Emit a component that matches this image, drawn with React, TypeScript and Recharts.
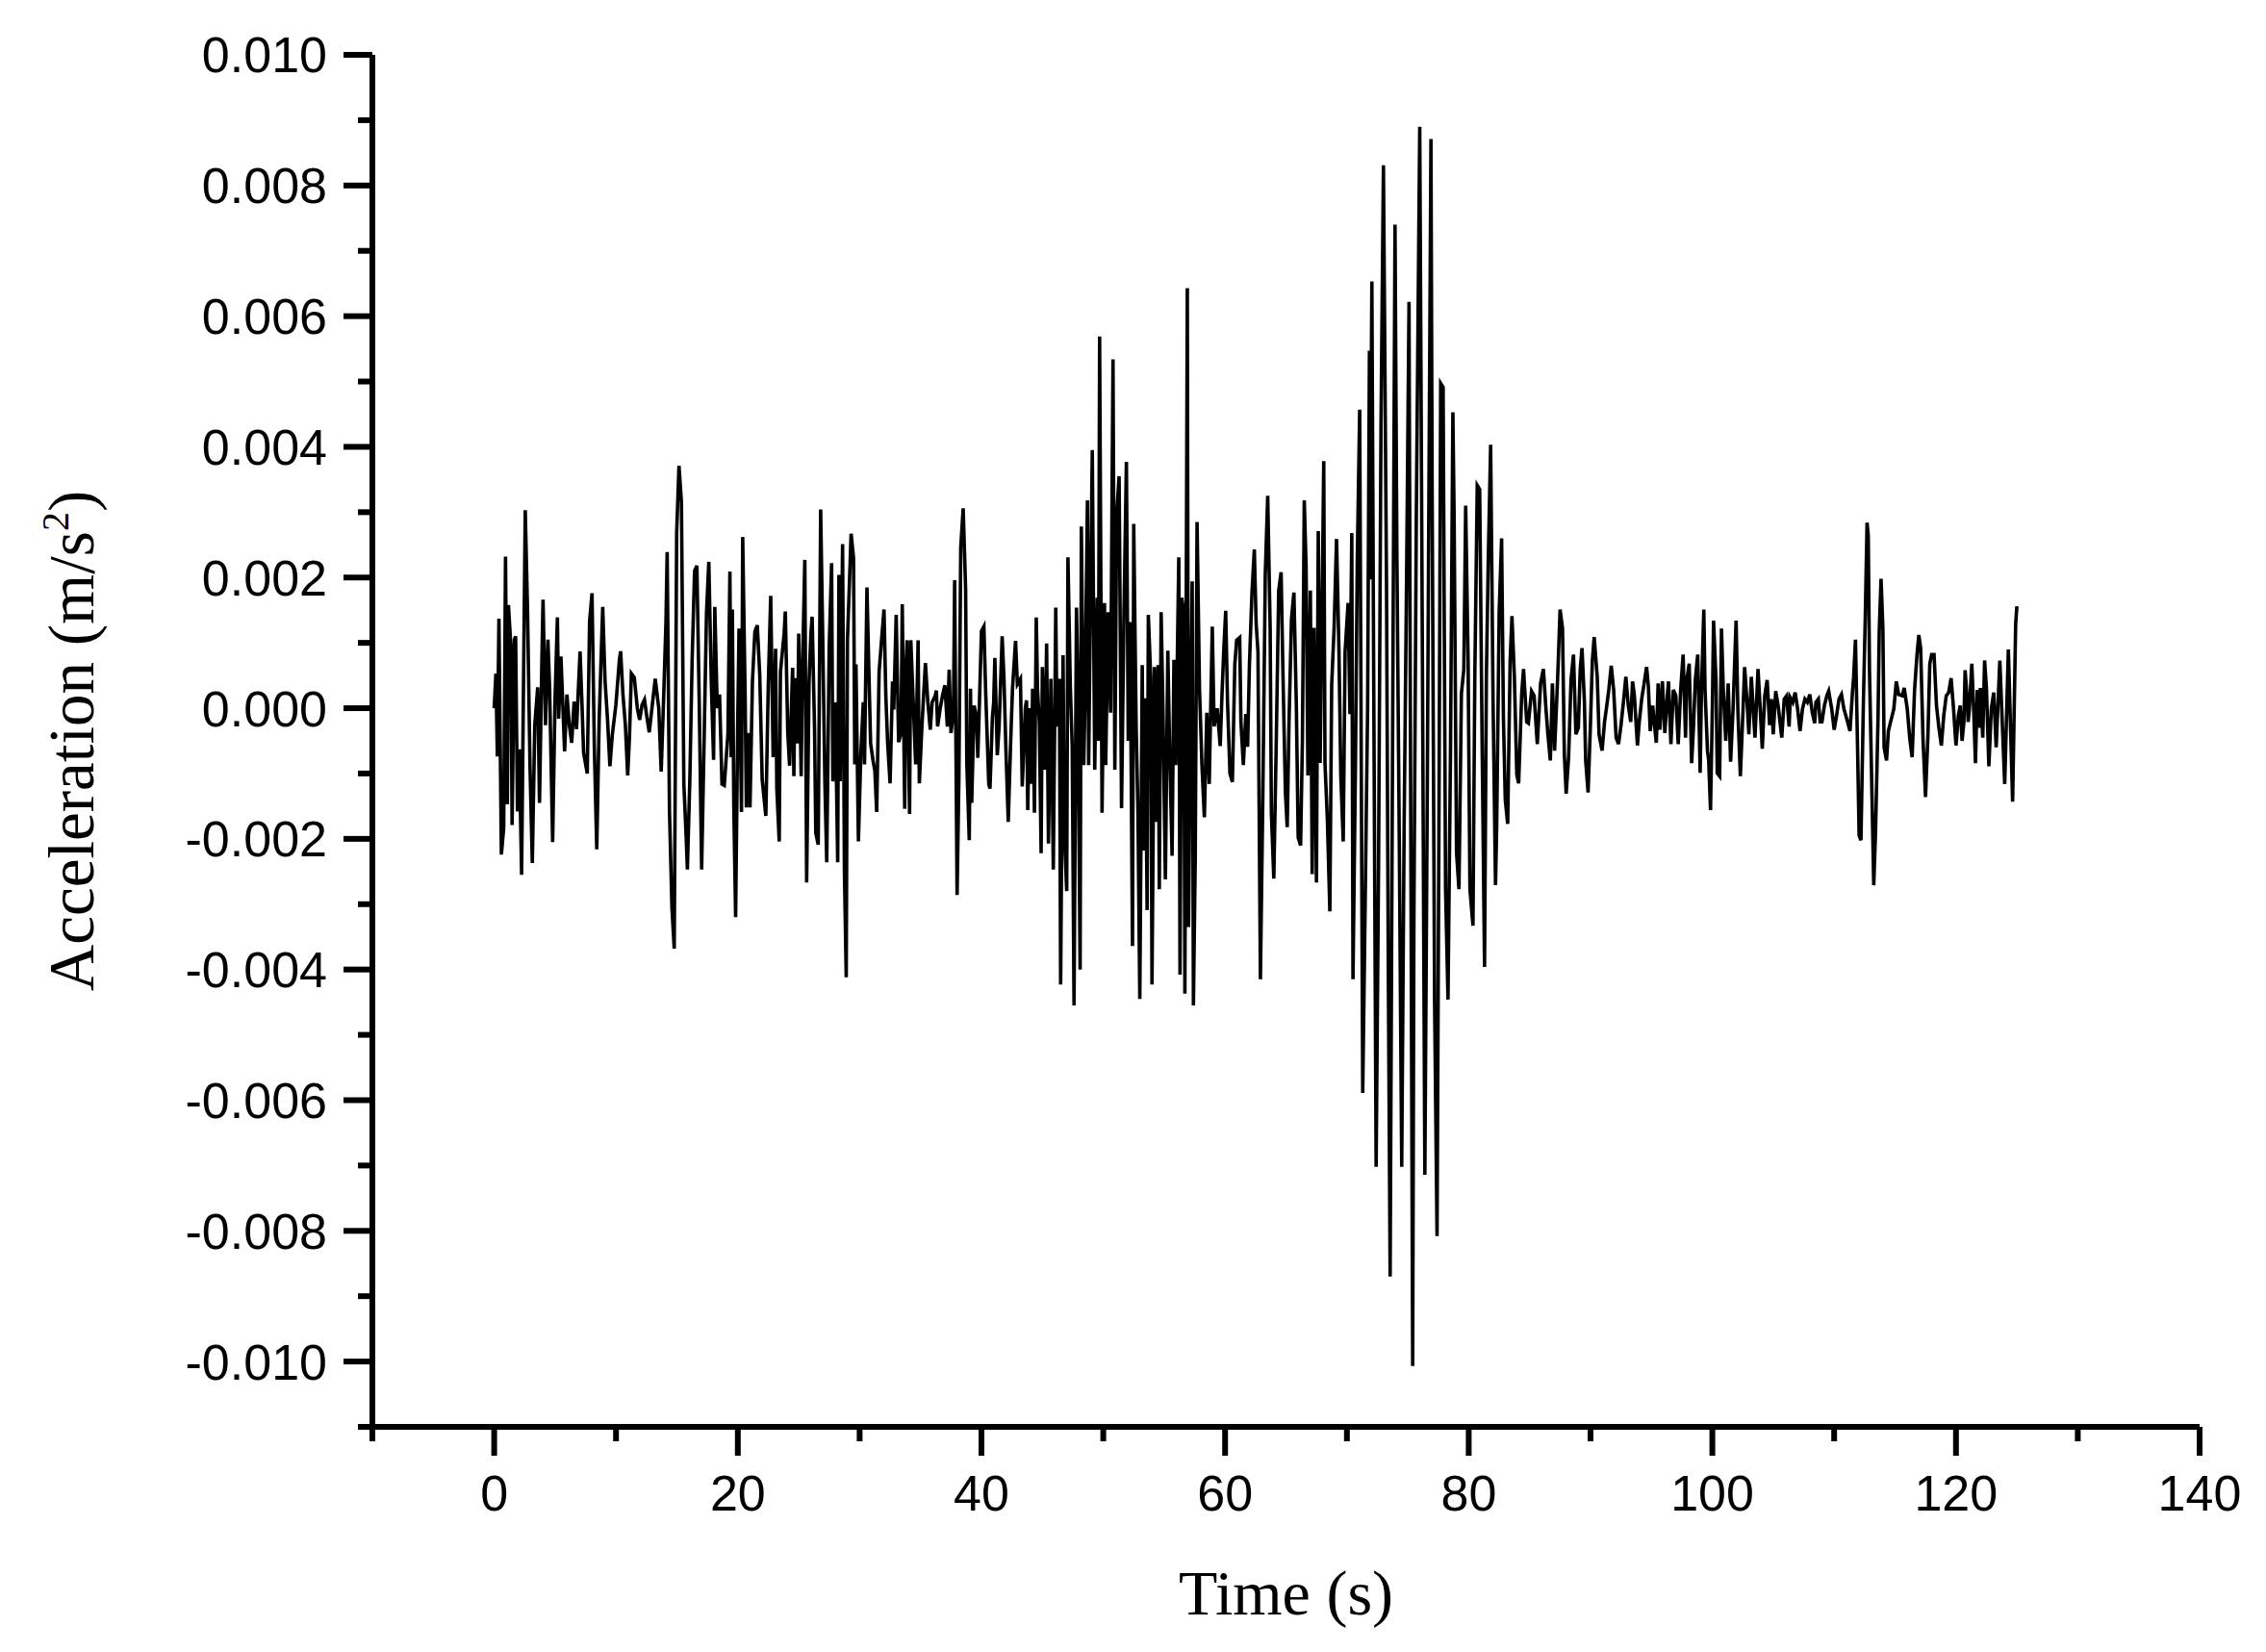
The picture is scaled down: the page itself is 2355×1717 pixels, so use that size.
import React from 'react';
import { LineChart, Line, XAxis, YAxis } from 'recharts';

// acceleration record: [time (s), acceleration (x10^-3 m/s^2)]
const seg00: [number, number][] = [
  [0, 0], [0.14, 0.53], [0.26, -0.74], [0.39, 1.37], [0.59, -2.24], [0.78, -1.84], [0.93, 2.32], [1.08, -1.47],
  [1.17, 1.58], [1.37, 0.95], [1.47, -1.79], [1.66, 1.05], [1.76, 1.1], [1.91, -1.58], [2.06, -0.63], [2.25, -2.55],
  [2.35, -0.68], [2.55, 3.03], [2.74, 1.47], [2.94, -0.89], [3.13, -2.37], [3.33, -0.26], [3.57, 0.32], [3.72, -1.45],
  [3.92, 0.79], [4.01, 1.66], [4.21, -0.26], [4.41, 1.05], [4.55, 0.32], [4.8, -2.05], [4.99, 0.1], [5.19, 1.39],
  [5.29, -0.16], [5.48, 0.79], [5.78, -0.66], [5.97, 0.21], [6.17, -0.26], [6.36, -0.53], [6.56, 0.1], [6.76, -0.32],
  [7.05, 0.87], [7.2, 0.1], [7.34, -0.68], [7.64, -1.0], [7.83, 1.32], [8.03, 1.76], [8.22, -0.58], [8.42, -2.16],
  [8.62, -0.16], [8.91, 1.55], [9.1, 0.42], [9.3, -0.16], [9.5, -0.89], [9.69, -0.42], [9.99, 0.05], [10.28, 0.74],
  [10.38, 0.87], [10.57, 0.21], [10.77, -0.26], [10.96, -1.03], [11.11, -0.42], [11.26, 0.53], [11.5, 0.47], [11.75, 0],
  [11.94, -0.18], [12.14, 0.05], [12.34, 0.13], [12.53, -0.13], [12.73, -0.37], [12.92, -0.05], [13.22, 0.45], [13.51, 0],
  [13.71, -0.97], [13.9, 0.1], [14.1, 1.32], [14.2, 2.39], [14.39, -1.58], [14.59, -3.05], [14.78, -3.68], [14.98, 2.68],
  [15.17, 3.71], [15.37, 3.16], [15.57, -1.16], [15.76, -1.97], [15.86, -2.47], [16.06, -1.1], [16.25, 0.74], [16.45, 2.1],
  [16.64, 2.18], [16.84, 0], [17.03, -2.47], [17.23, -0.53], [17.43, 1.47], [17.62, 2.24], [17.82, 0.42], [18.01, -0.79],
  [18.11, 1.55], [18.31, 0], [18.5, 0.21], [18.7, -1.16], [18.89, -1.18], [19.19, -0.39], [19.35, 2.09], [19.45, -0.75],
  [19.55, 1.51], [19.67, -1.49], [19.82, -3.2],
];

const seg20: [number, number][] = [
  [20.0, -0.12], [20.1, 1.22], [20.3, -1.59], [20.4, 2.62], [20.6, 0.19], [20.7, -1.52], [20.9, -0.38], [21.0, -1.52],
  [21.2, 0.41], [21.4, 1.17], [21.6, 1.27], [21.8, 0.51], [22.0, -1.09], [22.3, -1.65], [22.5, 0.35], [22.7, 1.72],
  [22.9, -0.75], [23.1, 0.91], [23.2, -1.23], [23.4, -2.04], [23.5, 0.56], [23.8, 1.14], [23.9, 1.48], [24.1, -0.38],
  [24.25, -0.88], [24.5, 0.62], [24.6, -1.04], [24.7, 0.46], [24.9, -0.54], [25.0, 1.14], [25.2, -1.04], [25.3, 0.51],
  [25.5, 2.27], [25.65, -2.67], [25.85, 0.41], [26.0, 1.14], [26.1, 1.4], [26.3, -0.33], [26.4, -1.91], [26.6, -2.09],
  [26.8, 3.04], [27.0, 0.72], [27.15, -1.17], [27.3, -2.36], [27.5, 0.93], [27.7, 2.22], [27.8, -1.12], [28.0, 0.09],
  [28.2, -2.36], [28.3, 2.04], [28.4, -1.12], [28.6, 2.51], [28.75, -2.49], [28.9, -4.12], [29.0, 1.04], [29.3, 2.67],
  [29.5, 2.3], [29.6, -0.86], [29.7, 0.67], [29.9, -2.04], [30.1, -0.7], [30.3, 0.09], [30.4, -0.86], [30.6, 1.85],
  [30.7, 1.04], [30.9, -0.54], [31.1, -0.8], [31.25, -0.96], [31.4, -1.59], [31.6, 0.56], [31.8, 1.04], [32.0, 1.51],
  [32.15, 0.19], [32.3, -0.54], [32.5, -1.15], [32.7, 0.41], [32.8, -0.02], [33.0, 1.43], [33.2, -0.52], [33.4, -0.38],
  [33.5, 1.59], [33.7, -1.54], [33.8, 0.56], [33.9, 1.04], [34.1, -1.62], [34.2, 1.04], [34.4, 0.09], [34.6, -0.86],
  [34.8, 1.04], [34.9, -1.15], [35.1, -0.33], [35.25, 0.19], [35.4, 0.69], [35.6, 0.09], [35.8, -0.33], [35.95, 0.09],
  [36.2, 0.19], [36.3, 0.27], [36.4, -0.28], [36.6, -0.02], [36.8, 0.19], [37.0, 0.35], [37.2, -0.28], [37.35, 0.59],
  [37.5, -0.38], [37.7, -0.07], [37.8, 1.96], [38.0, -2.86], [38.15, -1.07], [38.3, 2.46], [38.5, 3.06], [38.7, 1.83],
  [38.8, -0.86], [39.0, -2.02],
];

const seg40: [number, number][] = [
  [39.1, 0.3], [39.2, -1.45], [39.4, 0.04], [39.6, -0.14], [39.7, -0.76], [39.8, -0.14], [40.0, 1.18], [40.2, 1.25],
  [40.35, 0.23], [40.6, -1.16], [40.7, -1.23], [40.9, -0.14], [41.0, 0.08], [41.1, 0.77], [41.3, -0.72], [41.45, -0.28],
  [41.7, 1.1], [41.85, 0.45], [42.0, -0.58], [42.2, -1.74], [42.4, -0.5], [42.55, 0.3], [42.8, 1.03], [42.95, 0.37],
  [43.2, 0.45], [43.35, -1.2], [43.6, 0], [43.7, 0.12], [43.8, -1.56], [43.95, 0], [44.1, -1.16], [44.2, 0.3],
  [44.35, -1.6], [44.5, 1.39], [44.6, 0.3], [44.75, -0.21], [44.9, -2.22], [45.0, 0.63], [45.2, -0.94], [45.35, 0.99],
  [45.5, -2.07], [45.7, 0.45], [45.8, -0.94], [45.9, -2.47], [46.1, 1.54], [46.2, -0.28], [46.4, 0.45], [46.5, -4.23],
  [46.7, 0.81], [46.8, -1.89], [47.0, -2.8], [47.1, 2.31], [47.3, 0.3], [47.45, -0.58], [47.6, -4.55], [47.8, 1.54],
  [47.9, 0.52], [48.1, -4.0], [48.2, 2.78], [48.4, -0.87], [48.5, 0.08], [48.7, 3.18], [48.8, -0.87], [48.95, 1.69],
  [49.1, 3.95], [49.3, -0.94], [49.5, 1.69], [49.6, -0.5], [49.7, 5.69], [49.9, -1.6], [50.1, 1.61], [50.2, -0.87],
  [50.4, 1.47], [50.6, -0.07], [50.8, 5.34], [50.95, -0.94], [51.1, 2.96], [51.3, 3.55], [51.5, -1.53], [51.7, 1.47],
  [51.9, 3.77], [52.05, -0.5], [52.2, 1.32], [52.4, -3.64], [52.5, 2.82], [52.7, -0.28], [52.85, -1.6], [53.0, -4.45],
  [53.2, 0.66], [53.3, -2.18], [53.45, 0.15], [53.6, -3.09], [53.7, 1.43], [53.9, 0.45], [54.0, -4.23], [54.2, 0.63],
  [54.35, -1.74], [54.5, 0.66], [54.6, -2.77], [54.75, 1.47], [54.9, 0], [55.1, -2.62], [55.3, 0.88], [55.45, -0.65],
  [55.65, -2.26], [55.8, 0.74], [55.95, -0.87], [56.2, 2.31], [56.3, -4.08], [56.45, 1.69], [56.6, 1.47], [56.7, -4.37],
  [56.9, 6.43], [57.0, -3.35], [57.1, -1.16], [57.3, 1.94], [57.4, -4.55], [57.55, -2.33], [57.7, 2.85], [57.9, 0.3],
  [58.1, -0.87], [58.3, -1.67], [58.5, -0.07], [58.7, -1.16], [58.95, 1.25], [59.1, -0.28], [59.35, 0], [59.6, -0.58],
];

const seg60: [number, number][] = [
  [59.75, 0.23], [59.9, 0.92], [60.05, 1.49], [60.2, 0.1], [60.4, -1.0], [60.6, -1.13], [60.8, 0.67], [60.95, 1.04],
  [61.2, 1.08], [61.3, -0.21], [61.5, -0.87], [61.7, -0.09], [61.85, -0.59], [62.0, 0.67], [62.2, 1.74], [62.4, 2.43],
  [62.55, 1.3], [62.7, 0.86], [62.9, -4.15], [63.1, -1.35], [63.3, 2.05], [63.5, 3.25], [63.7, 1.23], [63.8, -1.6],
  [64.0, -2.61], [64.2, -0.53], [64.4, 1.8], [64.6, 2.08], [64.75, 0.54], [64.95, -1.28], [65.1, -1.82], [65.25, -0.21],
  [65.45, 1.36], [65.65, 1.77], [65.85, 0.04], [66.0, -1.98], [66.2, -2.1], [66.35, -0.47], [66.5, 3.18], [66.65, 2.18],
  [66.8, -1.03], [67.0, 1.8], [67.15, -2.54], [67.3, 1.23], [67.5, -2.67], [67.65, 2.71], [67.8, -0.84], [68.0, 2.11],
  [68.1, 3.78], [68.2, -0.84], [68.4, -1.72], [68.6, -3.11], [68.75, 0.35], [68.95, 1.23], [69.15, 2.59], [69.35, 0.86],
  [69.5, -1.03], [69.7, -2.04], [69.85, 0.86], [70.1, 1.61], [70.25, -0.09], [70.4, 2.68], [70.5, -4.15], [70.7, -0.91],
  [70.85, 2.24], [71.05, 4.57],
];

const seg72: [number, number][] = [
  [71.3, -5.89], [71.5, -3.0], [71.7, 0], [71.85, 5.47], [71.9, 1.97], [72.05, 6.53], [72.2, 0.47], [72.4, -7.02],
  [72.6, -2.4], [72.8, 4.34], [73.0, 8.31], [73.25, 1.97], [73.4, -4.02], [73.55, -8.7], [73.7, -2.52], [73.95, 7.4],
  [74.1, 2.47], [74.3, -2.02], [74.5, -7.02], [74.7, -1.77], [74.9, 2.03], [75.1, 6.22], [75.2, 0.47], [75.4, -10.07],
  [75.5, -3.27], [75.7, 2.97], [75.98, 8.9], [76.2, 0.72], [76.4, -7.14], [76.6, -1.27], [76.7, 2.22], [76.9, 8.71],
  [77.0, 3.22], [77.2, -4.52], [77.4, -8.08], [77.55, -2.02], [77.7, 4.97], [77.9, 4.91], [78.1, -2.77], [78.3, -4.46],
  [78.5, -0.77], [78.7, 4.53], [78.8, 2.97], [79.0, -2.21], [79.2, -2.77], [79.4, 0.22], [79.6, 0.6], [79.75, 3.1],
  [79.95, 0.72], [80.1, -2.77], [80.35, -3.33], [80.5, 0.47], [80.7, 3.41], [80.9, 3.35], [81.1, -0.52], [81.3, -3.96],
  [81.45, 0.47], [81.6, 2.22], [81.8, 4.03], [82.0, 0.1], [82.2, -2.71], [82.3, -1.77], [82.5, 1.47], [82.7, 2.6],
  [82.85, -0.15], [83.0, -1.4], [83.2, -1.77], [83.4, 0.72], [83.55, 1.41], [83.75, 0.47], [83.95, -1.02], [84.1, -1.15],
  [84.35, 0.22], [84.5, 0.6],
];

const seg85: [number, number][] = [
  [84.76, -0.21], [84.9, -0.23], [85.16, 0.26], [85.37, 0.19], [85.63, -0.55], [85.9, 0.38], [86.13, 0.6], [86.34, -0.01],
  [86.5, -0.4], [86.7, -0.8], [86.87, 0.38], [87.05, -0.65], [87.3, 0.46], [87.5, 1.51], [87.7, 1.22], [87.85, -0.7],
  [88.0, -1.31], [88.2, -0.75], [88.4, 0.43], [88.6, 0.82], [88.8, -0.4], [89.0, -0.3], [89.15, 0.58], [89.3, 0.92],
  [89.5, 0.09], [89.6, -0.8], [89.8, -1.29], [90.0, -0.21], [90.15, 0.73], [90.3, 1.09], [90.55, 0.48], [90.7, -0.4],
  [90.95, -0.65], [91.15, -0.21], [91.3, -0.01], [91.5, 0.28], [91.7, 0.65], [91.9, 0.28], [92.1, -0.45], [92.3, -0.55],
  [92.5, -0.26], [92.7, 0.09], [92.9, 0.48], [93.1, 0.04], [93.3, -0.21], [93.45, 0.41], [93.6, 0.19], [93.85, -0.57],
  [94.0, -0.21], [94.2, 0.14], [94.4, 0.38], [94.6, 0.63], [94.75, 0.33], [94.9, -0.35], [95.1, 0.04], [95.3, -0.35],
  [95.4, -0.53], [95.55, 0.38], [95.7, -0.33], [95.9, 0.41], [96.1, -0.38], [96.3, 0.19], [96.4, 0.41], [96.6, -0.55],
  [96.8, 0.28], [97.0, 0.19], [97.2, -0.55], [97.4, 0.28], [97.6, 0.82], [97.8, -0.45], [97.9, 0.43], [98.1, 0.68],
  [98.3, -0.84], [98.45, -0.3], [98.6, 0.43], [98.8, 0.82], [99.0, -0.99], [99.1, 0.19], [99.3, 1.51], [99.4, 0.28],
  [99.6, -0.65], [99.7, -0.8], [99.85, -1.56], [100.0, -0.01], [100.1, 1.34], [100.3, 0.43], [100.4, -0.99], [100.6, -1.04],
  [100.75, 1.22], [100.9, 0.28], [101.1, -0.5], [101.3, 0.38], [101.5, -0.82], [101.7, -0.01], [101.95, 1.34], [102.1, -0.06],
  [102.3, -1.04], [102.5, -0.11], [102.65, 0.63], [102.85, 0.09], [103.0, -0.4], [103.2, 0.48], [103.4, -0.16], [103.5, -0.45],
  [103.75, 0.6], [103.9, 0.09], [104.1, -0.62], [104.3, 0.19], [104.5, 0.43], [104.7, -0.26], [104.85, 0.14], [105.0, -0.4],
  [105.2, 0.26], [105.4, 0.04], [105.7, -0.45], [105.9, 0.14],
];

const seg105: [number, number][] = [
  [106.1, 0.19], [106.3, -0.28], [106.4, 0.16], [106.6, 0.09], [106.8, 0.24], [107.0, -0.01], [107.2, -0.35], [107.4, -0.01],
  [107.6, 0.14], [107.8, 0.09], [108.0, 0.21], [108.2, -0.06], [108.4, -0.23], [108.5, 0.09], [108.7, 0.14], [108.85, -0.21],
  [109.0, -0.21], [109.2, 0.04], [109.4, 0.19], [109.55, 0.26], [109.8, -0.01], [110.0, -0.33], [110.2, -0.11], [110.4, 0.14],
  [110.6, 0.21], [110.8, -0.01], [111.1, -0.21], [111.3, -0.35], [111.5, 0.24], [111.6, 0.48], [111.75, 1.05], [111.9, -0.4],
  [112.05, -1.95], [112.2, -2.02], [112.4, 0.09], [112.55, 1.36], [112.7, 2.84], [112.8, 2.64], [112.9, 0.58], [113.1, -1.29],
  [113.25, -2.71], [113.4, -1.88], [113.6, -0.16], [113.7, 1.17], [113.85, 1.98], [114.0, 1.22], [114.1, -0.6], [114.3, -0.8],
  [114.45, -0.35], [114.7, -0.16], [114.9, -0.01], [115.1, 0.41], [115.3, 0.21], [115.6, 0.19], [115.75, 0.31], [116.0, -0.01],
  [116.2, -0.45], [116.4, -0.75], [116.6, 0.28], [116.8, 0.82], [116.95, 1.12], [117.1, 0.92], [117.3, -0.5], [117.5, -1.36],
  [117.7, -0.4], [117.85, 0.68], [118.0, 0.82], [118.2, 0.82], [118.4, 0.04], [118.6, -0.3], [118.8, -0.57], [119.0, -0.11],
  [119.2, 0.19], [119.4, 0.24], [119.6, 0.46], [119.8, -0.01], [120.0, -0.57], [120.2, -0.11], [120.35, 0.04], [120.5, -0.5],
  [120.65, -0.21], [120.75, 0.58], [120.9, 0.19], [121.0, -0.21], [121.1, -0.01], [121.3, 0.68], [121.45, -0.01], [121.6, -0.84],
  [121.75, 0.28], [121.9, -0.3], [122.0, 0.31], [122.2, -0.45], [122.35, 0.73], [122.5, 0.31], [122.7, -0.89], [122.9, -0.01],
  [123.1, 0.24], [123.3, -0.6], [123.6, 0.73], [124.0, -1.16], [124.3, 0.9], [124.65, -1.43], [124.9, 1.29], [125.0, 1.56],
];

const xTicks = [-10, 0, 10, 20, 30, 40, 50, 60, 70, 80, 90, 100, 110, 120, 130, 140];
const xLabelled = [0, 20, 40, 60, 80, 100, 120, 140];
const yTicks = [
  -0.011, -0.01, -0.009, -0.008, -0.007, -0.006, -0.005, -0.004, -0.003, -0.002, -0.001,
  0, 0.001, 0.002, 0.003, 0.004, 0.005, 0.006, 0.007, 0.008, 0.009, 0.01,
];

const W = 2355;
const H = 1717;
const TICK = 30;
const GAP_X = 20;
const GAP_Y = 17;
const AXIS_W = 6;
const sans = '"Liberation Sans", Arial, sans-serif';
const serif = '"Liberation Serif", "Times New Roman", serif';

const rows = [...seg00, ...seg20, ...seg40, ...seg60, ...seg72, ...seg85, ...seg105].map(([t, a]) => ({
  t,
  acc: a / 1000,
}));

const XTick = (props: any) => {
  const { x, y, payload } = props;
  const v = payload.value;
  const major = xLabelled.includes(v);
  const y0 = y - TICK - GAP_X;
  return (
    <g>
      <line x1={x} x2={x} y1={y0} y2={y0 + (major ? TICK : TICK / 2)} stroke="#000" strokeWidth={AXIS_W} />
      {major && (
        <text x={x} y={y} dy="0.71em" textAnchor="middle" fontFamily={sans} fontSize={52} fill="#000">
          {v}
        </text>
      )}
    </g>
  );
};

const YTick = (props: any) => {
  const { x, y, payload } = props;
  const k = Math.round(payload.value * 1000);
  const major = k % 2 === 0;
  const x0 = x + TICK + GAP_Y;
  return (
    <g>
      <line x1={x0 - (major ? TICK : TICK / 2)} x2={x0} y1={y} y2={y} stroke="#000" strokeWidth={AXIS_W} />
      {major && (
        <text x={x} y={y} dy="0.355em" textAnchor="end" fontFamily={sans} fontSize={52} fill="#000">
          {payload.value.toFixed(3)}
        </text>
      )}
    </g>
  );
};

const renderYTitle = (props: any) => {
  const vb = props.viewBox;
  const cx = vb.x + 10;
  const cy = vb.y + vb.height / 2;
  return (
    <text
      x={cx}
      y={cy}
      transform={`rotate(-90 ${cx} ${cy})`}
      textAnchor="middle"
      fontFamily={serif}
      fontSize={67}
      fill="#000"
    >
      Acceleration (m/s
      <tspan dy={-26} fontSize={40}>2</tspan>
      <tspan dy={26}>)</tspan>
    </text>
  );
};

export default function App() {
  return (
    <div style={{ position: 'absolute', left: 0, top: 0, width: W, height: H, background: '#fff' }}>
      <LineChart width={W} height={H} data={rows} margin={{ top: 57, right: 69, bottom: 134, left: 87 }}>
        <XAxis
          dataKey="t"
          type="number"
          domain={[-10, 140]}
          ticks={xTicks}
          interval={0}
          height={100}
          tickSize={TICK}
          tickMargin={GAP_X}
          tickLine={false}
          tick={<XTick />}
          axisLine={{ stroke: '#000', strokeWidth: AXIS_W }}
          allowDataOverflow
          label={{
            value: 'Time (s)',
            position: 'bottom',
            offset: 48,
            fill: '#000',
            fontSize: 66,
            fontFamily: serif,
          }}
        />
        <YAxis
          type="number"
          domain={[-0.011, 0.01]}
          ticks={yTicks}
          interval={0}
          width={300}
          tickSize={TICK}
          tickMargin={GAP_Y}
          tickLine={false}
          tick={<YTick />}
          axisLine={{ stroke: '#000', strokeWidth: AXIS_W }}
          allowDataOverflow
          label={renderYTitle}
        />
        <Line
          dataKey="acc"
          type="linear"
          stroke="#000"
          strokeWidth={3.6}
          strokeLinejoin="miter"
          dot={false}
          activeDot={false}
          isAnimationActive={false}
        />
      </LineChart>
    </div>
  );
}
